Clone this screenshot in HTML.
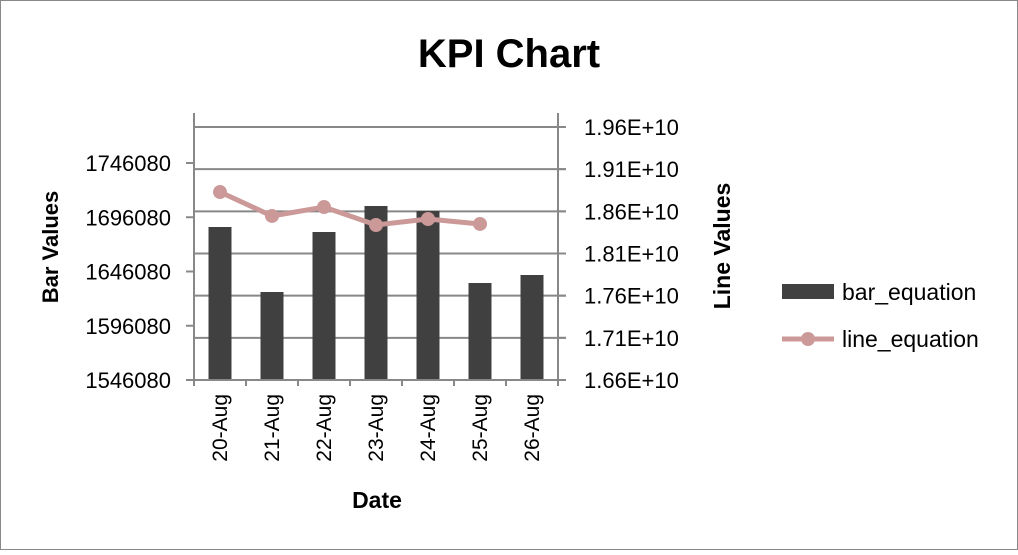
<!DOCTYPE html>
<html><head><meta charset="utf-8"><style>
body{margin:0;background:#fff;}
svg text{font-family:"Liberation Sans",sans-serif;}
</style></head><body>
<svg width="1018" height="550" xmlns="http://www.w3.org/2000/svg">
<rect x="0.5" y="0.5" width="1017" height="549" fill="#fff" stroke="#888"/>
<text x="509" y="67" text-anchor="middle" font-size="40" font-weight="bold">KPI Chart</text>
<g id="grid"></g><g id="bars"></g><g id="axes"></g><g id="line"></g>
<text transform="translate(58,247) rotate(-90)" text-anchor="middle" font-size="22" font-weight="bold">Bar Values</text>
<text transform="translate(730,246) rotate(-90)" text-anchor="middle" font-size="23" font-weight="bold">Line Values</text>
<text x="377" y="508" text-anchor="middle" font-size="23" font-weight="bold">Date</text>
<g>
<rect x="782" y="284" width="52" height="15" fill="#404040"/>
<text x="842" y="300" font-size="23">bar_equation</text>
<line x1="782" y1="339" x2="834" y2="339" stroke="#cc9999" stroke-width="5"/>
<circle cx="808" cy="339" r="7" fill="#cc9999"/>
<text x="842" y="347" font-size="23">line_equation</text>
</g>
</svg>
<script>
const categories=["20-Aug","21-Aug","22-Aug","23-Aug","24-Aug","25-Aug","26-Aug"];
const barValues=[1687094,1627186,1682486,1706449,1701840,1635481,1642854];
const lineValues=[1.8829e10,1.8545e10,1.8651e10,1.8438e10,1.8509e10,1.845e10];
const leftTicks=[1546080,1596080,1646080,1696080,1746080];
const rightTicks=[1.66e10,1.71e10,1.76e10,1.81e10,1.86e10,1.91e10,1.96e10];
const rightLabels=["1.66E+10","1.71E+10","1.76E+10","1.81E+10","1.86E+10","1.91E+10","1.96E+10"];
const NS="http://www.w3.org/2000/svg";
const X0=194,X1=558,Y0=380;
const yL=v=>Y0-(v-1546080)*(217/200000);
const yR=v=>Y0-(v-1.66e10)*(253/0.3e10);
const cw=(X1-X0)/categories.length;
const xC=i=>X0+cw*(i+0.5);
function mk(tag,attrs,parent,txt){const e=document.createElementNS(NS,tag);for(const k in attrs)e.setAttribute(k,attrs[k]);if(txt!==undefined)e.textContent=txt;document.getElementById(parent).appendChild(e);return e;}
rightTicks.forEach((v,i)=>{const y=yR(v);
 if(i>0){const g=mk('line',{x1:X0,x2:566,y1:y,y2:y,stroke:'#888','stroke-width':2},'grid');
 
 }
 const t=mk('text',{x:584,y:y+8,'font-size':22},'axes',rightLabels[i]);
 
 
 const tk=mk('line',{x1:X1,x2:566,y1:y,y2:y,stroke:'#888','stroke-width':2},'axes');
 
 });
leftTicks.forEach(v=>{const y=yL(v);
 const tk=mk('line',{x1:186,x2:X0,y1:y,y2:y,stroke:'#888','stroke-width':2},'axes');
 
 
 const t=mk('text',{x:171,y:y+8,'font-size':22,'text-anchor':'end'},'axes',String(v));
 
 });
barValues.forEach((v,i)=>{const y=yL(v);
 const b=mk('rect',{x:xC(i)-11.5,y:y,width:23,height:Y0-y,fill:'#404040'},'bars');
 
 });
let a;
a=mk('line',{x1:X0,x2:X0,y1:113,y2:386,stroke:'#888','stroke-width':2},'axes');


a=mk('line',{x1:X1,x2:X1,y1:113,y2:386,stroke:'#888','stroke-width':2},'axes');


a=mk('line',{x1:186,x2:566,y1:Y0,y2:Y0,stroke:'#888','stroke-width':2},'axes');


categories.forEach((c,i)=>{
 const x=X0+cw*i;
 if(i>0){const tk=mk('line',{x1:x,x2:x,y1:Y0,y2:386,stroke:'#888','stroke-width':2},'axes');
 
 }
 const t=mk('text',{transform:`translate(${xC(i)+7},394) rotate(-90)`,'font-size':21,'text-anchor':'end'},'axes',c);
 
 });
const pts=lineValues.map((v,i)=>xC(i)+','+yR(v)).join(' ');
const pl=mk('polyline',{points:pts,fill:'none',stroke:'#cc9999','stroke-width':5},'line');


lineValues.forEach((v,i)=>{const c=mk('circle',{cx:xC(i),cy:yR(v),r:7,fill:'#cc9999'},'line');
 
 });
</script>
</body></html>
